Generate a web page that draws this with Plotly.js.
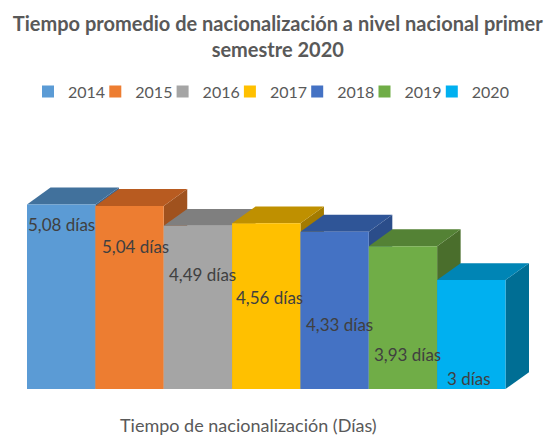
<!DOCTYPE html>
<html>
<head>
<meta charset="utf-8">
<script src="https://cdn.plot.ly/plotly-3.0.1.min.js"></script>
<style>html,body{margin:0;padding:0;background:#fff;}#chart{width:550px;height:440px;}</style>
</head>
<body>
<div id="chart"></div>
<script>
// ---- data ----
const years = ['2014', '2015', '2016', '2017', '2018', '2019', '2020'];
const values = [5.08, 5.04, 4.49, 4.56, 4.33, 3.93, 3.00];
const unit = ' días';
const titleText = 'Tiempo promedio de nacionalización a nivel nacional primer<br>semestre 2020';
const categoryLabel = 'Tiempo de nacionalización (Días)';

// ---- styles ----
const frontColors = ['#5B9BD5', '#ED7D31', '#A5A5A5', '#FFC000', '#4472C4', '#70AD47', '#00B0F0'];
const topColors   = ['#41719C', '#B85B20', '#7F7F7F', '#BF9000', '#2F5597', '#548235', '#0085B5'];
const sideColors  = ['#3A6590', '#A0521E', '#6E6E6E', '#A37B00', '#2B4D8A', '#4A6E2C', '#006E94'];
// label placement (style, in axis units relative to bar)
const labelShiftX = [0.0, 0.08, 0.07, 0.05, 0.07, 0.06, -0.03];
const labelPosY = [4.53, 3.93, 3.14, 2.51, 1.77, 0.95, 0.30];
const depthX = 0.344, depthY = 0.464;
const legendStepPx = 67.3, legendStartPx = 1, plotWidthPx = 502;

const fmt = v => String(v).replace('.', ',') + unit;
const legendId = i => (i === 0 ? 'legend' : 'legend' + (i + 1));

const traces = years.map((yr, i) => ({
  type: 'bar',
  x: [i],
  y: [values[i]],
  width: 1,
  name: yr,
  legend: legendId(i),
  marker: {color: frontColors[i], line: {width: 0}},
  hoverinfo: 'skip'
}));

const shapes = [];
values.forEach((v, i) => {
  const l = i - 0.5, r = i + 0.5;
  // side face
  shapes.push({
    type: 'path', xref: 'x', yref: 'y', layer: 'below',
    path: `M${r},0 L${r},${v} L${r + depthX},${v + depthY} L${r + depthX},${depthY} Z`,
    fillcolor: sideColors[i], line: {width: 0}
  });
  // top face
  shapes.push({
    type: 'path', xref: 'x', yref: 'y', layer: 'below',
    path: `M${l},${v} L${r},${v} L${r + depthX},${v + depthY} L${l + depthX},${v + depthY} Z`,
    fillcolor: topColors[i], line: {width: 0}
  });
});

const annotations = values.map((v, i) => ({
  x: i + labelShiftX[i], y: labelPosY[i], xref: 'x', yref: 'y',
  text: fmt(v), showarrow: false,
  font: {family: 'Lato, sans-serif', size: 17, color: '#404040'},
  xanchor: 'center', yanchor: 'middle'
}));
annotations.push({
  xref: 'paper', yref: 'paper', x: 0.442, y: 0, yshift: -36,
  text: categoryLabel, showarrow: false,
  font: {family: 'Lato, sans-serif', size: 18, color: '#595959'},
  xanchor: 'center', yanchor: 'middle'
});

const legendFont = {family: 'Lato, sans-serif', size: 16, color: '#595959'};

const layout = {
  width: 550, height: 440,
  margin: {l: 27, r: 21, t: 171, b: 51},
  paper_bgcolor: '#ffffff', plot_bgcolor: '#ffffff',
  barmode: 'overlay',
  title: {
    text: titleText,
    font: {family: 'Lato, sans-serif', size: 20, color: '#595959', weight: 'bold'},
    x: 0.505, xref: 'container', xanchor: 'center',
    y: 0.93, yref: 'container', yanchor: 'top'
  },
  showlegend: true,
  xaxis: {range: [-0.5, 6.844], showticklabels: false, showgrid: false, zeroline: false, showline: false, fixedrange: true, automargin: false},
  yaxis: {range: [0, 6], showticklabels: false, showgrid: false, zeroline: false, showline: false, fixedrange: true, automargin: false},
  shapes: shapes,
  annotations: annotations
};
years.forEach((yr, i) => {
  layout[legendId(i)] = {
    orientation: 'h', xref: 'paper', xanchor: 'left',
    x: (legendStartPx + legendStepPx * i) / plotWidthPx,
    y: 1.364, yanchor: 'middle',
    bgcolor: 'rgba(0,0,0,0)', borderwidth: 0,
    font: legendFont,
    itemclick: false, itemdoubleclick: false
  };
});

Plotly.newPlot('chart', traces, layout, {displayModeBar: false, staticPlot: true});
</script>
</body>
</html>
